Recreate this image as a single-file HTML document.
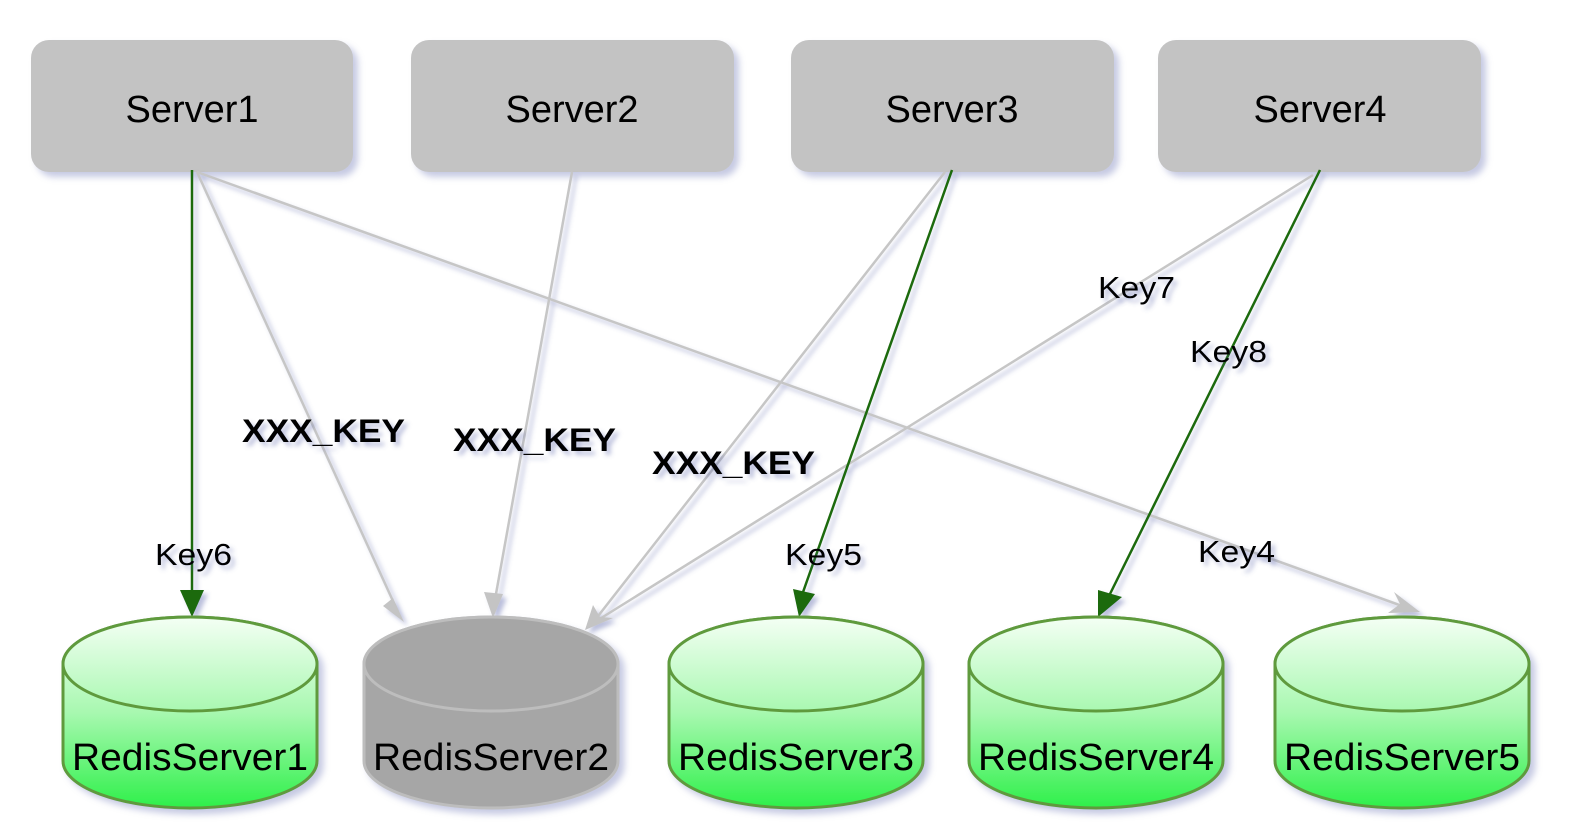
<!DOCTYPE html>
<html><head><meta charset="utf-8"><style>
html,body{margin:0;padding:0;background:#fff;}
svg{display:block;}
text{font-family:"Liberation Sans","DejaVu Sans",sans-serif;fill:#000;}
</style></head><body>
<svg width="1570" height="840" viewBox="0 0 1570 840" xmlns="http://www.w3.org/2000/svg">
<defs>
<filter id="sh" x="-10%" y="-10%" width="130%" height="140%"><feGaussianBlur in="SourceAlpha" stdDeviation="3.5"/><feOffset dx="5" dy="5" result="b"/><feFlood flood-color="#8088c0" flood-opacity="0.45"/><feComposite operator="in" in2="b" result="s"/><feMerge><feMergeNode in="s"/><feMergeNode in="SourceGraphic"/></feMerge></filter>
<filter id="tsh" x="-10%" y="-20%" width="130%" height="160%"><feGaussianBlur in="SourceAlpha" stdDeviation="2.5"/><feOffset dx="4" dy="4" result="b"/><feFlood flood-color="#5560a8" flood-opacity="0.4"/><feComposite operator="in" in2="b" result="s"/><feMerge><feMergeNode in="s"/><feMergeNode in="SourceGraphic"/></feMerge></filter>
<linearGradient id="g" gradientUnits="userSpaceOnUse" x1="0" y1="617" x2="0" y2="808"><stop offset="0" stop-color="#f4fff4"/><stop offset="0.5" stop-color="#a8f8b0"/><stop offset="1" stop-color="#2ef04a"/></linearGradient>
</defs>
<style>.gl{stroke:#c6c6c6;stroke-width:2.5;fill:none}.gr{stroke:#1f6a0c;stroke-width:2.5;fill:none}</style>

<g filter="url(#sh)" fill="#c3c3c3">
<rect x="31" y="40" width="322" height="132" rx="18"/>
<rect x="411" y="40" width="323" height="132" rx="18"/>
<rect x="791" y="40" width="323" height="132" rx="18"/>
<rect x="1158" y="40" width="323" height="132" rx="18"/>
</g>
<g font-size="38" text-anchor="middle">
<text x="192" y="122">Server1</text>
<text x="572" y="122">Server2</text>
<text x="952" y="122">Server3</text>
<text x="1320" y="122">Server4</text>
</g>

<g filter="url(#tsh)">
<line class="gl" x1="197" y1="172" x2="398" y2="612"/>
<path d="M393,598 L404,622 L383,606 Z" fill="#c4c4c4"/>
<line class="gl" x1="572" y1="172" x2="494" y2="605"/>
<path d="M484,592 L493,618 L503,594 Z" fill="#c4c4c4"/>
<line class="gl" x1="945" y1="172" x2="595" y2="620"/>
<line class="gl" x1="1313" y1="175" x2="598" y2="620"/>
<path d="M585,630 L593,605 L600,617 L613,618 Z" fill="#c4c4c4"/>
<line class="gl" x1="197" y1="172" x2="1405" y2="607"/>
<path d="M1420,612 L1394,592 L1400,604 L1388,613 Z" fill="#c4c4c4"/>

<line class="gr" x1="192" y1="170" x2="192" y2="595"/>
<path d="M180,590 L192,617 L204,590 Z" fill="#1f6a0c"/>
<line class="gr" x1="952" y1="170" x2="802" y2="595"/>
<path d="M793,589 L799,617 L815,594 Z" fill="#1f6a0c"/>
<line class="gr" x1="1320" y1="170" x2="1108" y2="598"/>
<path d="M1098,590 L1098,617 L1122,597 Z" fill="#1f6a0c"/>
</g>

<g filter="url(#sh)" stroke-width="3">
<g stroke="#5f9a3e" fill="url(#g)">
<path d="M63,664 L63,761 A127,47 0 0 0 317,761 L317,664 A127,47 0 0 0 63,664 Z"/>
<ellipse cx="190" cy="664" rx="127" ry="47"/>
<path d="M669,664 L669,761 A127,47 0 0 0 923,761 L923,664 A127,47 0 0 0 669,664 Z"/>
<ellipse cx="796" cy="664" rx="127" ry="47"/>
<path d="M969,664 L969,761 A127,47 0 0 0 1223,761 L1223,664 A127,47 0 0 0 969,664 Z"/>
<ellipse cx="1096" cy="664" rx="127" ry="47"/>
<path d="M1275,664 L1275,761 A127,47 0 0 0 1529,761 L1529,664 A127,47 0 0 0 1275,664 Z"/>
<ellipse cx="1402" cy="664" rx="127" ry="47"/>
</g>
<g stroke="#bdbdbd" fill="#a6a6a6">
<path d="M364,664 L364,761 A127,47 0 0 0 618,761 L618,664 A127,47 0 0 0 364,664 Z"/>
<ellipse cx="491" cy="664" rx="127" ry="47"/>
</g>
</g>
<g font-size="38" text-anchor="middle">
<text x="190" y="770" textLength="236" lengthAdjust="spacingAndGlyphs">RedisServer1</text>
<text x="491" y="770" textLength="236" lengthAdjust="spacingAndGlyphs">RedisServer2</text>
<text x="796" y="770" textLength="236" lengthAdjust="spacingAndGlyphs">RedisServer3</text>
<text x="1096" y="770" textLength="236" lengthAdjust="spacingAndGlyphs">RedisServer4</text>
<text x="1402" y="770" textLength="236" lengthAdjust="spacingAndGlyphs">RedisServer5</text>
</g>

<g filter="url(#tsh)">
<g font-size="32" font-weight="bold">
<text x="242" y="442" textLength="163" lengthAdjust="spacingAndGlyphs">XXX_KEY</text>
<text x="453" y="451" textLength="163" lengthAdjust="spacingAndGlyphs">XXX_KEY</text>
<text x="652" y="474" textLength="163" lengthAdjust="spacingAndGlyphs">XXX_KEY</text>
</g>
<g font-size="31">
<text x="155" y="565" textLength="77" lengthAdjust="spacingAndGlyphs">Key6</text>
<text x="785" y="565" textLength="77" lengthAdjust="spacingAndGlyphs">Key5</text>
<text x="1198" y="562" textLength="77" lengthAdjust="spacingAndGlyphs">Key4</text>
<text x="1098" y="298" textLength="77" lengthAdjust="spacingAndGlyphs">Key7</text>
<text x="1190" y="362" textLength="77" lengthAdjust="spacingAndGlyphs">Key8</text>
</g>
</g>
</svg>
</body></html>
